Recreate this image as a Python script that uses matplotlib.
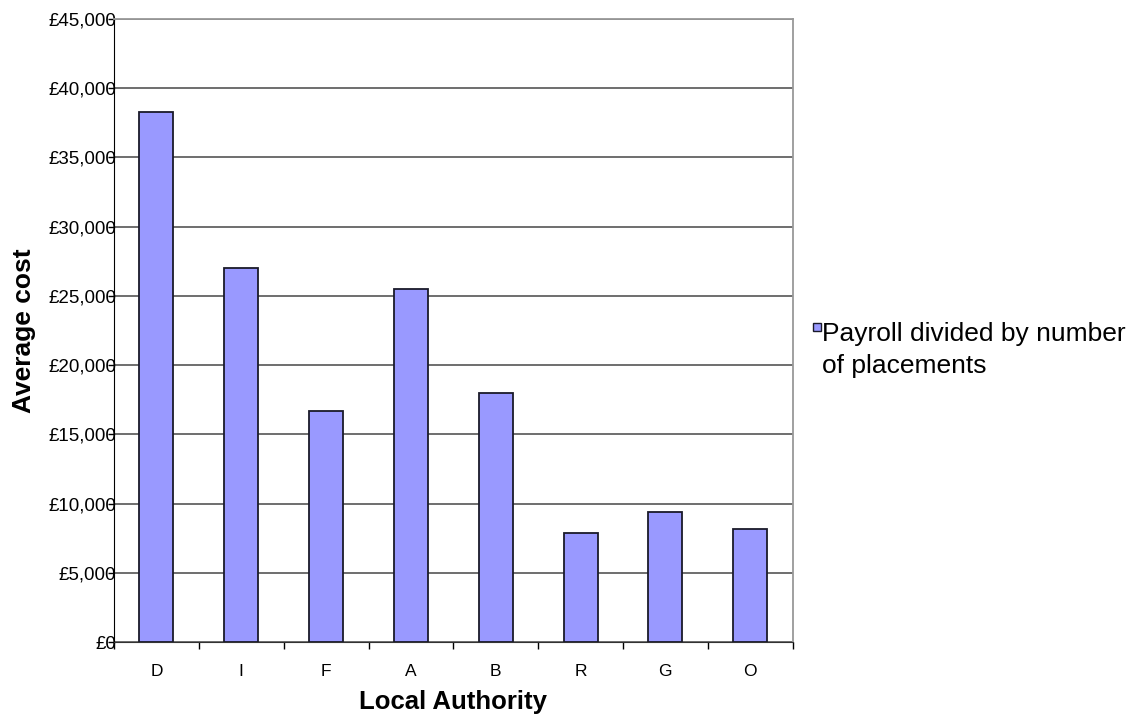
import matplotlib
matplotlib.use('Agg')
import matplotlib.pyplot as plt
import numpy as np
from matplotlib.patches import Rectangle
from matplotlib.ticker import FuncFormatter, FixedLocator

plt.rcParams['font.family'] = ['Liberation Sans', 'DejaVu Sans']

# data
authorities = ['D', 'I', 'F', 'A', 'B', 'R', 'G', 'O']
avg_cost = [38300, 27000, 16700, 25500, 18000, 7850, 9400, 8180]
series_name = 'Payroll divided by number\nof placements'

W, H = 1136, 722
fig = plt.figure(figsize=(W / 100, H / 100), dpi=100)
ax = fig.add_axes([0.1004, 0.1108, 0.5973, 0.8629])

bar_color = '#9999ff'
x = np.arange(len(authorities))
ax.bar(x, avg_cost, width=0.4, color=bar_color, edgecolor='#1a1a2a',
       linewidth=1.3, zorder=3)

ax.set_xlim(-0.5, len(authorities) - 0.5)
ax.set_ylim(0, 45000)
ax.set_yticks(np.arange(0, 45001, 5000))
ax.yaxis.set_major_formatter(FuncFormatter(lambda v, p: f'£{int(v):,}'))
ax.yaxis.grid(True, color='#555555', linewidth=1.2, zorder=0)

ax.set_xticks(x)
ax.set_xticklabels(authorities)
ax.xaxis.set_minor_locator(FixedLocator(np.arange(-0.5, len(authorities), 1)))
ax.tick_params(axis='x', which='major', length=0, pad=16, labelsize=12.5)
ax.tick_params(axis='x', which='minor', length=5, width=1, color='black', direction='out')
ax.tick_params(axis='y', length=4, width=1, direction='out', labelsize=13.5, pad=-5.5)

for side in ['top', 'right']:
    ax.spines[side].set_color('#999999')
    ax.spines[side].set_linewidth(1.3)
ax.spines['left'].set_color('black')
ax.spines['bottom'].set_color('#333333')

ax.set_xlabel('Local Authority', fontsize=18.5, fontweight='bold', labelpad=8)
ax.set_ylabel('Average cost', fontsize=19, fontweight='bold', labelpad=9)

# legend drawn by hand: small square next to the first line of the label
fig.add_artist(Rectangle((813 / W, 1 - 331 / H), 8 / W, 8 / H, transform=fig.transFigure,
                         facecolor=bar_color, edgecolor='#1a1a2a', linewidth=1))
fig.text(822 / W, 1 - 322 / H, series_name, fontsize=19, va='top', ha='left',
         linespacing=1.42)

fig.savefig('out.png', dpi=100)
